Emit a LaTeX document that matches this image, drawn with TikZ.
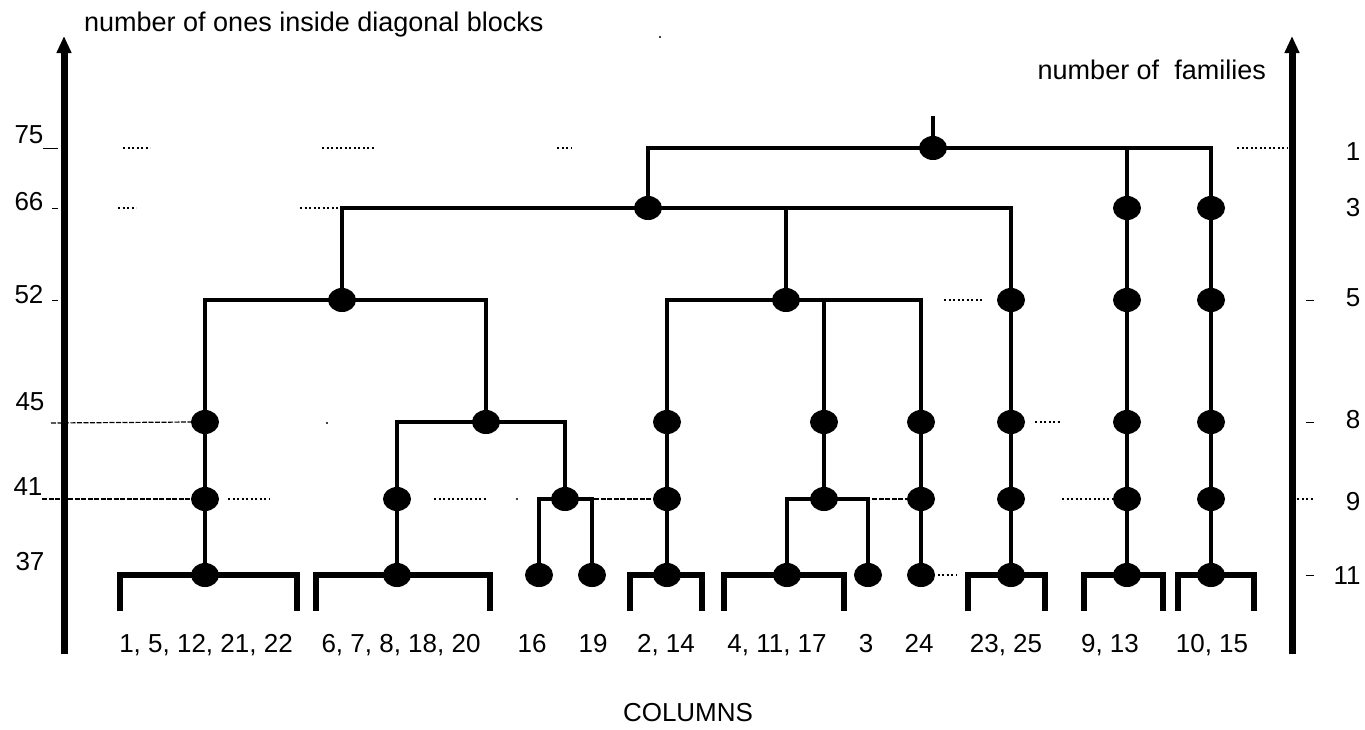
\documentclass[tikz,border=0pt]{standalone}
\usepackage{fontspec}
\setmainfont{Liberation Sans}
\usetikzlibrary{shapes.geometric,arrows.meta}
\begin{document}
\begin{tikzpicture}[x=1pt,y=-1pt,
  axis/.style={line width=7pt},
  link/.style={line width=4.5pt},
  leg/.style={line width=6pt},
  dot/.style={ellipse,fill=black,minimum width=28pt,minimum height=24pt,inner sep=0pt},
  guide/.style={line width=1.2pt,dash pattern=on 2pt off 2.5pt},
  dguide/.style={line width=1.2pt,dash pattern=on 5pt off 1.5pt},
  lab/.style={font=\fontsize{26}{30}\selectfont,inner sep=0pt,anchor=base},
  num/.style={font=\fontsize{26}{30}\selectfont,inner sep=0pt},
  ttl/.style={font=\fontsize{27}{31}\selectfont,inner sep=0pt},
]
\useasboundingbox (0,0) rectangle (1365,729);

% axes
\coordinate (lb) at (64,654); \coordinate (lt) at (64,36);
\coordinate (rb) at (1292,654); \coordinate (rt) at (1292,36);
\draw[axis,-{Triangle[length=17pt,width=14pt]}] (lb) -- (lt);
\draw[axis,-{Triangle[length=17pt,width=14pt]}] (rb) -- (rt);

% titles
\node[ttl,anchor=west] (tl) at (84,25) {number of ones inside diagonal blocks};
\node[ttl,anchor=east] (tr) at (1266,70) {number of\ \ families};
\node[num] (cols) at (688,713) {COLUMNS};

% left scale
\node[num] (y75) at (29,135) {75};
\node[num] (y66) at (29,202) {66};
\node[num] (y52) at (29,295) {52};
\node[num] (y45) at (30,402) {45};
\node[num] (y41) at (28,487) {41};
\node[num] (y37) at (30,562) {37};
\draw[line width=1pt] (43,148) -- (58,148);
\draw[line width=1pt] (52,208) -- (58,208);
\draw[line width=1pt] (52,300) -- (58,300);

% right scale
\node[num] (f1) at (1353,152) {1};
\node[num] (f3) at (1353,208) {3};
\node[num] (f5) at (1353,298) {5};
\node[num] (f8) at (1353,420) {8};
\node[num] (f9) at (1353,502) {9};
\node[num] (f11) at (1347,576) {11};
\draw[line width=1pt] (1306,300) -- (1314,300);
\draw[line width=1pt] (1306,422) -- (1314,422);
\draw[guide] (1297,499) -- (1314,499);
\draw[line width=1pt] (1306,575) -- (1314,575);

% merge dots
\node[dot] (n75) at (933,148) {};
\node[dot] (n66) at (648,208) {};
\node[dot] (n52L) at (342,300) {};
\node[dot] (n52R) at (786,300) {};
\node[dot] (n45) at (486,422) {};
\node[dot] (n41a) at (565,499) {};
\node[dot] (n41b) at (824,499) {};

% column dots
\node[dot] (a45) at (205,422) {};
\node[dot] (a41) at (205,499) {};
\node[dot] (a37) at (205,575) {};
\node[dot] (b41) at (397,499) {};
\node[dot] (b37) at (397,575) {};
\node[dot] (c37) at (539,575) {};
\node[dot] (d37) at (592,575) {};
\node[dot] (e45) at (667,422) {};
\node[dot] (e41) at (667,499) {};
\node[dot] (e37) at (667,575) {};
\node[dot] (g45) at (824,422) {};
\node[dot] (f37) at (787,575) {};
\node[dot] (h37) at (868,575) {};
\node[dot] (i45) at (921,422) {};
\node[dot] (i41) at (921,499) {};
\node[dot] (i37) at (921,575) {};
\node[dot] (j52) at (1011,300) {};
\node[dot] (j45) at (1011,422) {};
\node[dot] (j41) at (1011,499) {};
\node[dot] (j37) at (1011,575) {};
\node[dot] (k66) at (1127,208) {};
\node[dot] (k52) at (1127,300) {};
\node[dot] (k45) at (1127,422) {};
\node[dot] (k41) at (1127,499) {};
\node[dot] (k37) at (1127,575) {};
\node[dot] (m66) at (1211,208) {};
\node[dot] (m52) at (1211,300) {};
\node[dot] (m45) at (1211,422) {};
\node[dot] (m41) at (1211,499) {};
\node[dot] (m37) at (1211,575) {};

% tree links
\coordinate (stub) at ([yshift=32pt]n75.center);
\draw[link] (stub) -- (n75.center);
\draw[link] (n66.center) |- (n75.center) -| (m66.center);
\draw[link] (k66.center |- n75.center) -- (k66.center);
\draw[link] (n52L.center) |- (n66.center) -| (j52.center);
\draw[link] (n52R.center) -- (n52R.center |- n66.center);
\draw[link] (a45.center) |- (n52L.center) -| (n45.center);
\draw[link] (b41.center) |- (n45.center) -| (n41a.center);
\draw[link] (c37.center) |- (n41a.center) -| (d37.center);
\draw[link] (e45.center) |- (n52R.center) -| (i45.center);
\draw[link] (g45.center |- n52R.center) -- (g45.center) -- (n41b.center);
\draw[link] (f37.center) |- (n41b.center) -| (h37.center);
\draw[link] (a45.center) -- (a41.center) -- (a37.center);
\draw[link] (b41.center) -- (b37.center);
\draw[link] (e45.center) -- (e41.center) -- (e37.center);
\draw[link] (i45.center) -- (i41.center) -- (i37.center);
\draw[link] (j52.center) -- (j45.center) -- (j41.center) -- (j37.center);
\draw[link] (k66.center) -- (k52.center) -- (k45.center) -- (k41.center) -- (k37.center);
\draw[link] (m66.center) -- (m52.center) -- (m45.center) -- (m41.center) -- (m37.center);

% brackets
\draw[leg] (120,611) |- (a37.center) -| (297,611);
\draw[leg] (316,611) |- (b37.center) -| (490,611);
\draw[leg] (630,611) |- (e37.center) -| (702,611);
\draw[leg] (724,611) |- (f37.center) -| (844,611);
\draw[leg] (968,611) |- (j37.center) -| (1045,611);
\draw[leg] (1084,611) |- (k37.center) -| (1163,611);
\draw[leg] (1178,611) |- (m37.center) -| (1254,611);

% column labels
\node[lab] (l1) at (206,652) {1, 5, 12, 21, 22};
\node[lab] (l2) at (401,652) {6, 7, 8, 18, 20};
\node[lab] (l3) at (532,652) {16};
\node[lab] (l4) at (593,652) {19};
\node[lab] (l5) at (666,652) {2, 14};
\node[lab] (l6) at (777,652) {4, 11, 17};
\node[lab] (l7) at (866,652) {3};
\node[lab] (l8) at (919,652) {24};
\node[lab] (l9) at (1006,652) {23, 25};
\node[lab] (l10) at (1110,652) {9, 13};
\node[lab] (l11) at (1212,652) {10, 15};

% guide fragments
\draw[dguide] (51,423) -- (a45.west);
\draw[dguide] (42,499) -- (a41.west);
\draw[dguide] (d37.north |- n41a) ++(2,0) -- (e41.west);
\draw[dguide] (h37.north |- n41b) ++(4,0) -- (i41.west);
\draw[guide] (123,148) -- (150,148);
\draw[guide] (322,148) -- (375,148);
\draw[guide] (557,148) -- (572,148);
\draw[guide] (1237,148) -- (1288,148);
\draw[guide] (118,208) -- (136,208);
\draw[guide] (300,208) -- (345,208);
\draw[guide] (944,300) -- (982,300);
\draw[guide] (1035,422) -- (1060,422);
\draw[guide] (228,499) -- (270,499);
\draw[guide] (434,499) -- (487,499);
\draw[guide] (1062,499) -- (1114,499);
\draw[guide] (933,575) -- (957,575);
\fill (660,37) circle (1.2);
\fill (327,423) circle (1.2);
\fill (517,499) circle (1.2);
\end{tikzpicture}
\end{document}
